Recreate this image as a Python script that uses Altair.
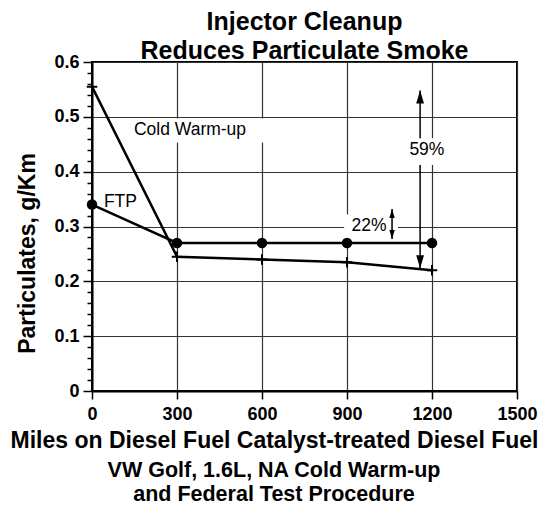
import altair as alt
import pandas as pd

# ---- data ----
miles = [0, 300, 600, 900, 1200]
ftp_vals = [0.34, 0.27, 0.27, 0.27, 0.27]
cold_vals = [0.555, 0.245, 0.24, 0.235, 0.22]

x_ticks = [0, 300, 600, 900, 1200, 1500]
y_ticks = [round(i * 0.02, 2) for i in range(31)]

label_text = ["Cold Warm-up", "FTP", "59%", "22%"]
label_x = [148, 42, 1182, 978]
label_y = [0.476, 0.345, 0.44, 0.301]
label_align = ["left", "left", "center", "center"]

box_names = ["Cold Warm-up", "59%", "22%"]
box_x1 = [118, 1108, 890]
box_x2 = [610, 1256, 1080]
box_y1 = [0.453, 0.412, 0.274]
box_y2 = [0.497, 0.461, 0.322]

arrow_names = ["59%", "22%"]
arrow_x = [1158, 1059]
arrow_low = [0.224, 0.277]
arrow_high = [0.548, 0.332]
arrow_head = [169, 81]

FONT = "Liberation Sans"

series = pd.DataFrame({
    "x": miles * 2,
    "y": ftp_vals + cold_vals,
    "series": ["FTP"] * 5 + ["Cold Warm-up"] * 5,
})
labels = pd.DataFrame({"x": label_x, "y": label_y, "text": label_text, "align": label_align})
boxes = pd.DataFrame({"name": box_names, "x": box_x1, "x2": box_x2, "y": box_y1, "y2": box_y2})
arrows = pd.DataFrame({"name": arrow_names, "x": arrow_x, "y": arrow_low, "y2": arrow_high,
                       "head": arrow_head})

MAJ = "abs(datum.value * 10 - round(datum.value * 10)) < 0.001"

XS = alt.Scale(domain=[0, 1500], nice=False)
YS = alt.Scale(domain=[0, 0.6], nice=False)

XAX = alt.Axis(
    values=x_ticks, format="d", grid=True, gridColor="#333333", gridWidth=1.2,
    labelFont=FONT, labelFontSize=18, labelFontWeight="bold", labelColor="black",
    labelPadding=6, labelFlush=False, labelOverlap=False,
    tickSize=8, tickColor="black", tickWidth=1.5,
    domainColor="black", domainWidth=2,
    title="Miles on Diesel Fuel Catalyst-treated Diesel Fuel",
    titleFont=FONT, titleFontSize=23, titleFontWeight="bold", titleColor="black",
    titlePadding=6, titleX=182,
)
YAX = alt.Axis(
    values=y_ticks, grid=True, gridColor="#333333", gridWidth=1.2,
    gridOpacity={"condition": {"test": MAJ, "value": 1}, "value": 0},
    labelExpr=f"({MAJ}) ? toString(round(datum.value * 10) / 10) : ''",
    labelFont=FONT, labelFontSize=18, labelFontWeight="bold", labelColor="black",
    labelPadding=4, labelOverlap=False, labelFlush=False,
    tickSize={"condition": {"test": MAJ, "value": 9}, "value": 5},
    tickColor="black", tickWidth=1.5,
    domainColor="black", domainWidth=2,
    title="Particulates, g/Km",
    titleFont=FONT, titleFontSize=23, titleFontWeight="bold", titleColor="black",
    titlePadding=14, titleY=191,
)

X = alt.X("x:Q", scale=XS, axis=XAX)
Y = alt.Y("y:Q", scale=YS, axis=YAX)

rule_big = alt.Chart(arrows).mark_rule(color="black", strokeWidth=1.5).encode(
    x=X, y=Y, y2="y2:Q").transform_filter(alt.datum.name == "59%")
white = alt.Chart(boxes).mark_rect(color="white", opacity=1).encode(
    x=X, x2="x2:Q", y=Y, y2="y2:Q")
rule_small = alt.Chart(arrows).mark_rule(color="black", strokeWidth=1.5).encode(
    x=X, y=Y, y2="y2:Q").transform_filter(alt.datum.name == "22%")

lines = alt.Chart(series).mark_line(color="black", strokeWidth=2.5).encode(
    x=X, y=Y, detail="series:N")
circles = alt.Chart(series).mark_point(
    shape="circle", filled=True, color="black", opacity=1, size=110
).encode(x=X, y=Y).transform_filter(alt.datum.series == "FTP")
plus = alt.Chart(series).mark_point(
    shape="M-1,0L1,0M0,-1L0,1", filled=False, color="black", opacity=1,
    strokeWidth=2, size=110
).encode(x=X, y=Y).transform_filter(alt.datum.series == "Cold Warm-up")

head_up = alt.Chart(arrows).mark_point(
    shape="M0,0L-0.6,2L0.6,2Z", filled=True, color="black", opacity=1
).encode(x=X, y=alt.Y("y2:Q", scale=YS, axis=YAX), size=alt.Size("head:Q", scale=None))
head_down = alt.Chart(arrows).mark_point(
    shape="M0,0L-0.6,-2L0.6,-2Z", filled=True, color="black", opacity=1
).encode(x=X, y=Y, size=alt.Size("head:Q", scale=None))

text_left = alt.Chart(labels).mark_text(
    align="left", baseline="middle", font=FONT, fontSize=17.5, color="black"
).encode(x=X, y=Y, text="text:N").transform_filter(alt.datum.align == "left")
text_center = alt.Chart(labels).mark_text(
    align="center", baseline="middle", font=FONT, fontSize=17.5, color="black"
).encode(x=X, y=Y, text="text:N").transform_filter(alt.datum.align == "center")

inner = alt.layer(
    rule_big, white, rule_small, lines, circles, plus, head_up, head_down,
    text_left, text_center
).properties(
    width=425, height=329,
    title=alt.TitleParams(
        text=["Injector Cleanup", "Reduces Particulate Smoke"],
        font=FONT, fontSize=25, fontWeight="bold", color="black",
        lineHeight=29.5, anchor="middle", frame="group", offset=-11,
    ),
)

chart = alt.vconcat(inner).properties(
    title=alt.TitleParams(
        text=["VW Golf, 1.6L, NA Cold Warm-up", "and Federal Test Procedure"],
        orient="bottom", font=FONT, fontSize=21.5, fontWeight="bold", color="black",
        lineHeight=23.5, anchor="middle", offset=7,
    ),
    autosize=alt.AutoSizeParams(type="pad"),
    padding={"left": 1, "top": 0, "right": 0, "bottom": 0},
).configure(font=FONT).configure_view(stroke="black", strokeWidth=2)

chart.save("out.html", embed_options={"renderer": "svg", "actions": False})
